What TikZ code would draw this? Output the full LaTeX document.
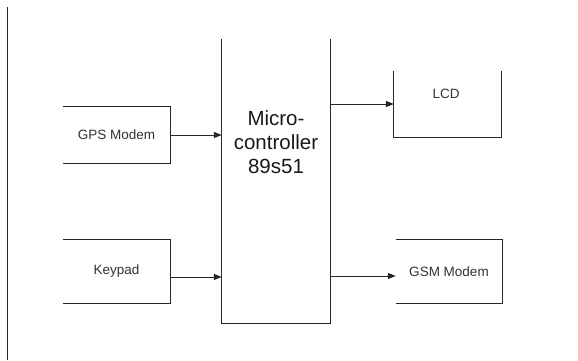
\documentclass[tikz,border=0pt]{standalone}
\usepackage{fontspec}
\setmainfont{Liberation Sans}
\usetikzlibrary{arrows.meta}
\begin{document}
\begin{tikzpicture}[x=1pt,y=-1pt,
  ln/.style={draw=black!85,line width=1pt},
  box/.style={inner sep=0pt,minimum width=#1,minimum height=64pt,font=\fontsize{13.5}{16}\selectfont,text=black!80},
  box/.default=107pt,
  arr/.style={ln,-{Triangle[length=8pt,width=6pt]}}]
\useasboundingbox (0,0) rectangle (578,360);
\fill[white] (0,0) rectangle (578,360);
% left border line
\coordinate (bt) at (7,7);
\coordinate (bb) at (7,360);
\draw[ln] (bt) -- (bb);
% microcontroller
\node[inner sep=0pt,minimum width=108pt,minimum height=284pt] (mc) at (276,181) {};
\draw[ln] (mc.north west) -- (mc.south west) -- (mc.south east) -- (mc.north east);
\node[align=center,font=\fontsize{20.5}{24}\selectfont,text=black!90] (mct) at (276,142) {Micro-\\controller\\89s51};
% GPS modem
\node[box,minimum height=56pt] (gps) at (116.5,135) {GPS Modem};
\draw[ln] (gps.north west) -- (gps.north east) -- (gps.south east) -- (gps.south west);
% Keypad
\node[box,minimum height=63pt] (kp) at (116.5,271.5) {Keypad};
\draw[ln] (kp.north west) -- (kp.north east) -- (kp.south east) -- (kp.south west);
% LCD
\node[box,minimum height=66pt] (lcd) at (447.5,104) {};
\node[font=\fontsize{13.5}{16}\selectfont,text=black!80,inner sep=0pt] (lcdt) at (446,94) {LCD};
\draw[ln] (lcd.north west) -- (lcd.south west) -- (lcd.south east) -- (lcd.north east);
% GSM modem
\node[box,minimum height=63pt,minimum width=106pt] (gsm) at (449,271.5) {GSM Modem};
\draw[ln] (gsm.north west) -- (gsm.north east) -- (gsm.south east) -- (gsm.south west);
% arrows
\draw[arr] (gps.east) -- (gps.east -| mc.west);
\draw[arr] (kp.east |- 0,277) -- (mc.west |- 0,277);
\draw[arr] (mc.east |- lcd.west) -- (lcd.west);
\draw[arr] (mc.east |- 0,276) -- (gsm.west |- 0,276);
\end{tikzpicture}
\end{document}
